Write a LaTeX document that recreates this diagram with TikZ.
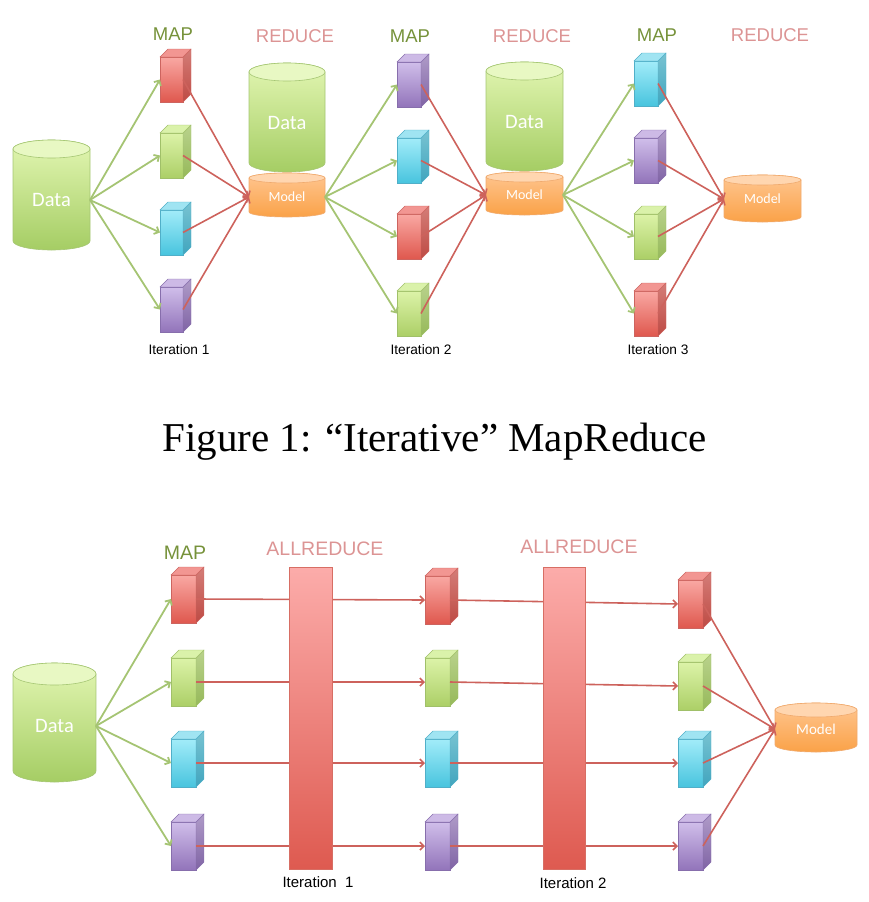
\documentclass[tikz,border=0pt]{standalone}
\usepackage{fontspec}
\setmainfont{Liberation Serif}
\newfontfamily\arialf{Liberation Sans}
\newfontfamily\calf{Carlito}
\usetikzlibrary{arrows.meta}

% box colours: T top of front, B bottom of front, S/SB side, P top face, E edge
\definecolor{redT}{RGB}{249,168,163}
\definecolor{redB}{RGB}{223,88,78}
\definecolor{redS}{RGB}{212,125,120}
\definecolor{redSB}{RGB}{190,75,68}
\definecolor{redP}{RGB}{242,150,146}
\definecolor{redE}{RGB}{205,100,95}
\definecolor{grnT}{RGB}{220,243,168}
\definecolor{grnB}{RGB}{172,207,103}
\definecolor{grnS}{RGB}{185,210,140}
\definecolor{grnSB}{RGB}{150,185,90}
\definecolor{grnP}{RGB}{218,242,170}
\definecolor{grnE}{RGB}{160,192,105}
\definecolor{cyaT}{RGB}{162,236,249}
\definecolor{cyaB}{RGB}{72,196,222}
\definecolor{cyaS}{RGB}{120,195,210}
\definecolor{cyaSB}{RGB}{65,165,190}
\definecolor{cyaP}{RGB}{160,228,242}
\definecolor{cyaE}{RGB}{80,175,200}
\definecolor{purT}{RGB}{208,190,234}
\definecolor{purB}{RGB}{146,116,186}
\definecolor{purS}{RGB}{175,155,200}
\definecolor{purSB}{RGB}{128,100,165}
\definecolor{purP}{RGB}{205,186,230}
\definecolor{purE}{RGB}{135,110,172}
% cylinders
\definecolor{datT}{RGB}{226,246,178}
\definecolor{datB}{RGB}{165,205,100}
\definecolor{datP}{RGB}{232,248,195}
\definecolor{datE}{RGB}{165,198,115}
\definecolor{modT}{RGB}{255,198,145}
\definecolor{modB}{RGB}{250,162,72}
\definecolor{modP}{RGB}{255,214,176}
\definecolor{modE}{RGB}{240,170,110}
% bars
\definecolor{barT}{RGB}{252,172,170}
\definecolor{barB}{RGB}{222,90,80}
\definecolor{barE}{RGB}{215,110,100}
% lines and labels
\definecolor{garr}{RGB}{165,196,115}
\definecolor{rarr}{RGB}{205,98,92}
\definecolor{maplbl}{RGB}{118,146,58}
\definecolor{redlbl}{RGB}{220,148,148}

\tikzset{
  boxface/.style={rectangle, inner sep=0pt, outer sep=0pt, line width=0.5pt},
  cyltext/.style={inner sep=0pt, outer sep=0pt, text=white},
  datatext/.style={cyltext, font=\calf\fontsize{20.5}{22}\selectfont},
  modeltext/.style={cyltext, font=\calf\fontsize{14}{16}\selectfont},
  maplabel/.style={text=maplbl, inner sep=0pt},
  redlabel/.style={text=redlbl, inner sep=0pt},
  itlabel/.style={text=black, inner sep=0pt, anchor=base},
  garrow/.style={draw=garr, line width=1.8pt, -{Straight Barb[length=4pt,width=8pt]}},
  rarrow/.style={draw=rarr, line width=1.6pt, -{Straight Barb[length=4pt,width=8pt]}},
  barnode/.style={rectangle, inner sep=0pt, outer sep=0pt, top color=barT, bottom color=barB, draw=barE, line width=0.5pt},
}

% #1 name, #2 x, #3 y (top-left of front face), #4 w, #5 h, #6 colour prefix
\newcommand{\mapbox}[6]{%
  \node[boxface, minimum width=#4pt, minimum height=#5pt, top color=#6T, bottom color=#6B, draw=#6E] (#1) at ({#2+#4/2},{#3+#5/2}) {};
  \shade[top color=#6S, bottom color=#6SB, draw=#6E, line width=0.4pt] (#1.north east) -- ++(8,-8) -- ++(0,#5) -- (#1.south east) -- cycle;
  \filldraw[fill=#6P, draw=#6E, line width=0.4pt] (#1.north west) -- ++(8,-8) -- ++(#4,0) -- (#1.north east) -- cycle;
}
% #1 x1, #2 y1, #3 x2, #4 y2, #5 ry, #6 colour prefix
\newcommand{\cylshape}[6]{%
  \pgfmathsetmacro\cylcx{(#1+#3)/2}%
  \pgfmathsetmacro\cylrx{(#3-#1)/2}%
  \shade[top color=#6T, bottom color=#6B, draw=#6E, line width=0.6pt] (#1,#2+#5) -- (#1,#4-#5) arc[start angle=180,end angle=0,x radius=\cylrx,y radius=#5] -- (#3,#2+#5) arc[start angle=0,end angle=-180,x radius=\cylrx,y radius=#5] -- cycle;
  \filldraw[fill=#6P, draw=#6E, line width=0.6pt] (\cylcx,#2+#5) ellipse[x radius=\cylrx, y radius=#5];
}

\begin{document}
\begin{tikzpicture}[x=1pt,y=-1pt]
\useasboundingbox (0,0) rectangle (868,902);

%================ TOP: Iterative MapReduce ================
\begin{scope}[font=\arialf\fontsize{18.5}{20}\selectfont]
\node[maplabel] (map1) at (173,34) {MAP};
\node[redlabel] (red1) at (295,36) {REDUCE};
\node[maplabel] (map2) at (410,36) {MAP};
\node[redlabel] (red2) at (532,36) {REDUCE};
\node[maplabel] (map3) at (657,35) {MAP};
\node[redlabel] (red3) at (770,35) {REDUCE};
\end{scope}
\begin{scope}[font=\arialf\fontsize{13.7}{15}\selectfont]
\node[itlabel] (it1) at (179,354) {Iteration 1};
\node[itlabel] (it2) at (421,354) {Iteration 2};
\node[itlabel] (it3) at (658,354) {Iteration 3};
\end{scope}

% cylinders
\cylshape{13}{140}{90}{250}{9}{dat}
\node[datatext, minimum width=77pt] (d1) at (51.5,200) {Data};
\cylshape{249}{63}{325}{172}{9}{dat}
\node[datatext] (d2) at (287,123) {Data};
\cylshape{249}{173}{325}{217}{5}{mod}
\node[modeltext, minimum width=76pt] (mod1) at (287,197) {Model};
\cylshape{486}{62}{563}{171}{9}{dat}
\node[datatext] (d3) at (524.5,122) {Data};
\cylshape{486}{172}{563}{215}{5}{mod}
\node[modeltext, minimum width=77pt] (mod2) at (524.5,195) {Model};
\cylshape{724}{175}{801}{222}{5}{mod}
\node[modeltext, minimum width=77pt] (mod3) at (762.5,199) {Model};

% map boxes
\mapbox{t1r}{160}{57}{23}{45}{red}
\mapbox{t1g}{160}{133}{23}{45}{grn}
\mapbox{t1c}{160}{210}{23}{45}{cya}
\mapbox{t1p}{160}{287}{23}{45}{pur}
\mapbox{t2p}{397}{62}{24}{45}{pur}
\mapbox{t2c}{397}{138}{24}{45}{cya}
\mapbox{t2r}{397}{214}{24}{45}{red}
\mapbox{t2g}{397}{291}{24}{45}{grn}
\mapbox{t3c}{634}{61}{24}{45}{cya}
\mapbox{t3p}{634}{138}{24}{45}{pur}
\mapbox{t3g}{634}{214}{24}{45}{grn}
\mapbox{t3r}{634}{291}{24}{45}{red}

% connectors
\foreach \b in {t1r,t1g,t1c,t1p}{
  \draw[garrow] (d1.east) -- (\b.west);
  \draw[rarrow] (\b.east) -- (mod1.west);
}
\foreach \b in {t2p,t2c,t2r,t2g}{
  \draw[garrow] (mod1.east) -- (\b.west);
  \draw[rarrow] (\b.east) -- (mod2.west);
}
\foreach \b in {t3c,t3p,t3g,t3r}{
  \draw[garrow] (mod2.east) -- (\b.west);
  \draw[rarrow] (\b.east) -- (mod3.west);
}

%================ Caption ================
\node[anchor=base, inner sep=0pt, font=\fontsize{41}{46}\selectfont] (cap) at (434.5,451) {Figure 1: “Iterative” MapReduce};

%================ BOTTOM: AllReduce ================
\begin{scope}[font=\arialf\fontsize{19.5}{21}\selectfont]
\node[maplabel, anchor=base] (bmap) at (185,559) {MAP};
\node[redlabel, anchor=base] (all1) at (325,555) {ALLREDUCE};
\node[redlabel, anchor=base] (all2) at (579,553) {ALLREDUCE};
\end{scope}
\begin{scope}[font=\arialf\fontsize{15}{17}\selectfont]
\node[itlabel] (bit1) at (318,887) {Iteration\ \ 1};
\node[itlabel] (bit2) at (573,888) {Iteration 2};
\end{scope}

\cylshape{13}{663}{96}{782}{11}{dat}
\node[datatext, minimum width=83pt] (bd) at (54.5,726) {Data};
\cylshape{775}{703}{857}{752}{7}{mod}
\node[modeltext, minimum width=82pt, font=\calf\fontsize{15}{17}\selectfont] (bmod) at (816,729) {Model};

\mapbox{b1r}{171}{575}{25}{48}{red}
\mapbox{b1g}{171}{658}{25}{48}{grn}
\mapbox{b1c}{171}{739}{25}{48}{cya}
\mapbox{b1p}{171}{822}{25}{48}{pur}
\mapbox{b2r}{425}{576}{25}{48}{red}
\mapbox{b2g}{425}{658}{25}{48}{grn}
\mapbox{b2c}{425}{739}{25}{48}{cya}
\mapbox{b2p}{425}{822}{25}{48}{pur}
\mapbox{b3r}{678}{580}{25}{48}{red}
\mapbox{b3g}{678}{662}{25}{48}{grn}
\mapbox{b3c}{678}{739}{25}{48}{cya}
\mapbox{b3p}{678}{822}{25}{48}{pur}

\foreach \r in {r,g,c,p}{
  \draw[garrow] (bd.east) -- (b1\r.west);
  \draw[rarrow] (b1\r.east) -- (b2\r.west);
  \draw[rarrow] (b2\r.east) -- (b3\r.west);
  \draw[rarrow] (b3\r.east) -- (bmod.west);
}

% allreduce bars (drawn over the lines)
\node[barnode, minimum width=43pt, minimum height=302pt] (bar1) at (310.5,718) {};
\node[barnode, minimum width=42pt, minimum height=302pt] (bar2) at (564,718) {};
\end{tikzpicture}
\end{document}
